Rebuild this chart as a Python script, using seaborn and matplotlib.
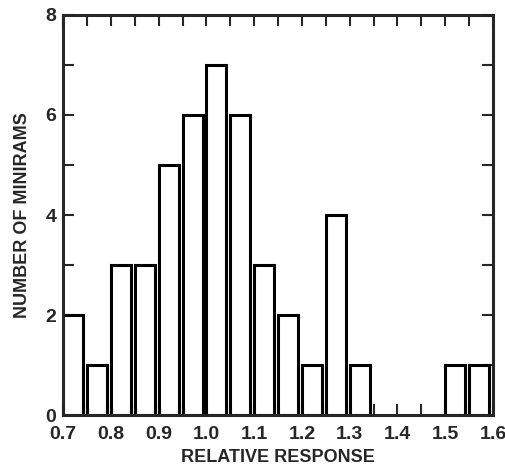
import numpy as np
import pandas as pd
import matplotlib.pyplot as plt
import seaborn as sns
from matplotlib.ticker import MultipleLocator

sns.set_style('ticks')
plt.rcParams['font.family'] = ['Liberation Sans', 'DejaVu Sans']
plt.rcParams['font.weight'] = 'bold'

# bin left edges (relative response) and counts
bin_left = [0.70, 0.75, 0.80, 0.85, 0.90, 0.95, 1.00, 1.05, 1.10,
            1.15, 1.20, 1.25, 1.30, 1.50, 1.55]
counts = [2, 1, 3, 3, 5, 6, 7, 6, 3, 2, 1, 4, 1, 1, 1]
x_ticks = [0.7, 0.8, 0.9, 1.0, 1.1, 1.2, 1.3, 1.4, 1.5, 1.6]
x_ticklabels = ['0.7', '0.8', '0.9', '1.0', '1.1', '1.2', '1.3', '1.4', '1.5', '1.6']
y_ticks = [0, 2, 4, 6, 8]

bar_w = 0.042
df = pd.DataFrame({'x': np.round(np.array(bin_left) + bar_w / 2, 4), 'n': counts})

fig = plt.figure(figsize=(5.05, 4.66), dpi=100)
ax = fig.add_axes([0.125, 0.109, 0.851, 0.859])

sns.barplot(data=df, x='x', y='n', native_scale=True, width=bar_w / 0.05,
            color='white', edgecolor='black', linewidth=2.2, saturation=1,
            ax=ax, zorder=3)

ax.set_xlim(0.7, 1.6)
ax.set_ylim(0, 8)
ax.set_xticks(x_ticks)
ax.set_xticklabels(x_ticklabels)
ax.set_yticks(y_ticks)
ax.xaxis.set_minor_locator(MultipleLocator(0.05))
ax.yaxis.set_minor_locator(MultipleLocator(1))
ax.tick_params(which='both', direction='in', top=True, right=True,
               labelsize=14, width=1.5, length=8)
ax.tick_params(axis='x', pad=8)
ax.tick_params(axis='y', pad=5)
for s in ax.spines.values():
    s.set_linewidth(2.2)
    s.set_zorder(4)

ax.set_xlabel('RELATIVE RESPONSE', fontsize=13, fontweight='bold', labelpad=4)
ax.set_ylabel('NUMBER OF MINIRAMS', fontsize=13, fontweight='bold', labelpad=10)

fig.savefig('out.png', dpi=100)
